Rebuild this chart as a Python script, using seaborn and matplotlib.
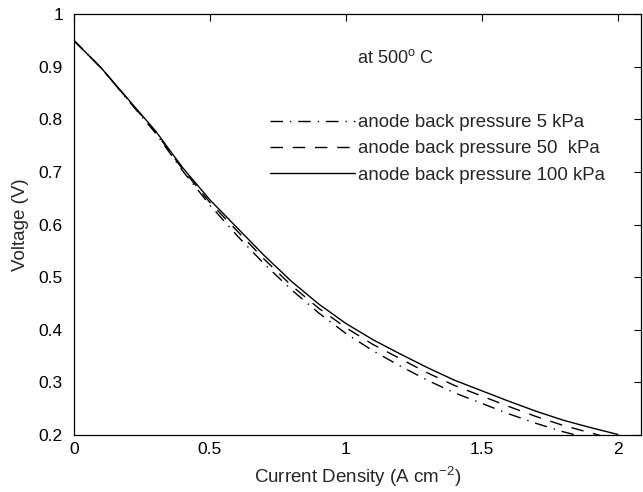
import matplotlib
matplotlib.use("Agg")
import matplotlib.pyplot as plt
import seaborn as sns
import pandas as pd

# ---- data ----
current_density = [0.0, 0.1, 0.2, 0.3, 0.4, 0.5, 0.6, 0.7, 0.8, 0.9, 1.0,
                   1.1, 1.2, 1.3, 1.4, 1.5, 1.6, 1.7, 1.8, 1.9, 2.0]
v_5kpa = [0.950, 0.898, 0.836, 0.774, 0.702, 0.637, 0.579, 0.525, 0.476, 0.432, 0.393,
          0.360, 0.331, 0.304, 0.280, 0.260, 0.240, 0.222, 0.206, 0.193, 0.180]
v_50kpa = [0.950, 0.898, 0.837, 0.776, 0.705, 0.642, 0.588, 0.534, 0.484, 0.441, 0.404,
           0.372, 0.345, 0.318, 0.294, 0.274, 0.254, 0.235, 0.218, 0.204, 0.190]
v_100kpa = [0.950, 0.898, 0.838, 0.778, 0.708, 0.647, 0.594, 0.541, 0.492, 0.449, 0.412,
            0.381, 0.354, 0.328, 0.304, 0.284, 0.264, 0.245, 0.228, 0.214, 0.201]
series_labels = ["anode back pressure 5 kPa",
                 "anode back pressure 50  kPa",
                 "anode back pressure 100 kPa"]
x_ticks = [0, 0.5, 1, 1.5, 2]
y_ticks = [0.2, 0.3, 0.4, 0.5, 0.6, 0.7, 0.8, 0.9, 1.0]

df = pd.concat([
    pd.DataFrame({"x": current_density, "v": vals, "series": lab})
    for vals, lab in zip([v_5kpa, v_50kpa, v_100kpa], series_labels)
], ignore_index=True)

sns.set_style("white")
plt.rcParams["font.family"] = ["Liberation Sans", "DejaVu Sans"]
plt.rcParams["mathtext.fontset"] = "custom"
plt.rcParams["mathtext.rm"] = "Liberation Sans"
plt.rcParams["mathtext.it"] = "Liberation Sans:italic"

fig = plt.figure(figsize=(6.43, 4.92), dpi=100)
W, H = 643, 492
left, right, top, bottom = 74, 641, 14.3, 435
ax = fig.add_axes([left / W, 1 - bottom / H, (right - left) / W, (bottom - top) / H])

dash_map = {series_labels[0]: (9, 5, 1, 5),
            series_labels[1]: (9, 7),
            series_labels[2]: ""}
sns.lineplot(data=df, x="x", y="v", hue="series", style="series",
             palette=["black"] * 3, dashes=dash_map, linewidth=1.0,
             ax=ax, legend=False, sort=False)

ax.set_xlim(0, 2.085)
ax.set_ylim(0.2, 1.0)
ax.set_xticks(x_ticks)
ax.set_xticklabels([f"{t:g}" for t in x_ticks])
ax.set_yticks(y_ticks)
ax.set_yticklabels([f"{t:g}" for t in y_ticks])
ax.tick_params(direction="in", length=5, width=0.8, top=True, right=True,
               labelsize=12.5, colors="black")
ax.tick_params(axis="y", pad=8)
ax.tick_params(axis="x", pad=5)
for s in ax.spines.values():
    s.set_visible(True)
    s.set_color("black")
    s.set_linewidth(0.9)

ax.set_xlabel(r"Current Density (A cm$^{-2}$)", fontsize=13.5, labelpad=6)
ax.set_ylabel("Voltage (V)", fontsize=13.5, labelpad=7)

ax.text(357 / W, 1 - 58 / H, r"at 500$^{\mathrm{o}}$ C", transform=fig.transFigure,
        fontsize=13, va="center", ha="left")

handles = ax.get_lines()[:3]
leg = ax.legend(handles, series_labels, loc="upper left",
                bbox_to_anchor=(270 / W, 1 - 114 / H), bbox_transform=fig.transFigure,
                frameon=False, fontsize=13.4, handlelength=4.55, handletextpad=0.2,
                borderpad=0, borderaxespad=0, labelspacing=0.5)

fig.savefig("out.png", dpi=100)
